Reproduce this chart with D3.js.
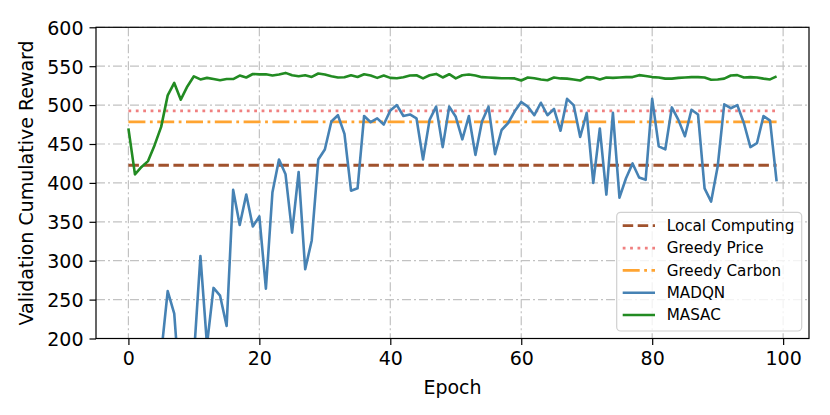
<!DOCTYPE html>
<html>
<head>
<meta charset="utf-8">
<script src="https://cdn.jsdelivr.net/npm/d3@7"></script>
<style>
  html, body { margin: 0; padding: 0; background: #fff; }
  svg { display: block; font-family: "DejaVu Sans", sans-serif; }
</style>
</head>
<body>
<svg id="chart" width="830" height="415"></svg>
<script>
// ---- data ----
const epochs = d3.range(0, 100);
const madqn = [120, 110, 130, 125, 140, 180, 261, 232, 118, 125,
  177, 306, 192, 265, 255, 216, 391, 346, 385, 344,
  357, 264, 388, 430, 411, 336, 414, 289, 326, 430,
  443, 479, 487, 463, 390, 393, 486, 478, 483, 475,
  493, 500, 486, 488, 483, 430, 481, 498, 446, 498,
  485, 456, 486, 436, 479, 498, 437, 468, 477, 492,
  504, 498, 487, 503, 487, 495, 467, 508, 500, 459,
  490, 400, 470, 385, 490, 381, 406, 425, 407, 404,
  508, 447, 443, 497, 481, 460, 494, 488, 393, 376,
  421, 501, 496, 500, 477, 446, 451, 486, 480, 402];
const masac = [470, 411, 420.5, 428, 448.5, 472, 512.5, 528.5, 507, 524,
  537, 533, 535, 533.5, 532, 533.5, 533.5, 538, 535.5, 540,
  539.5, 539.7, 538, 539.3, 541.4, 538.4, 537, 538.4, 536.2, 540.6,
  539.3, 537, 535.5, 535.8, 538.4, 536.2, 539.7, 538, 535, 538,
  535, 534.6, 535.9, 538, 538.4, 534.3, 538.4, 540.1, 535.5, 539.7,
  534.3, 538.4, 539.3, 538, 535.9, 535.5, 535, 534.6, 534.6, 534.3,
  531.6, 535.5, 534.6, 532.9, 532, 535.5, 534.3, 534, 532.9, 531.6,
  536, 535.5, 533, 535.5, 535, 535.5, 536, 536, 538.5, 537.5,
  536, 535.5, 534, 534, 535, 535.5, 536, 536, 535.5, 532.5,
  533, 534, 538, 538.5, 535.5, 536, 535.5, 534, 533, 537];
const localComputing = 422.7;
const greedyPrice = 492.5;
const greedyCarbon = 478.4;
const xTicks = [0, 20, 40, 60, 80, 100];
const yTicks = [200, 250, 300, 350, 400, 450, 500, 550, 600];
const seriesNames = ["Local Computing", "Greedy Price", "Greedy Carbon", "MADQN", "MASAC"];

// ---- styles ----
const styles = {
  "Local Computing": { color: "#a0522d", dash: "10.5,4.5", width: 2.8 },
  "Greedy Price":    { color: "#f08080", dash: "2.8,4.6", width: 2.8 },
  "Greedy Carbon":   { color: "#ffa431", dash: "17,4.5,2.8,4.5", width: 2.8 },
  "MADQN":           { color: "#4682b4", dash: null, width: 2.6 },
  "MASAC":           { color: "#228b22", dash: null, width: 2.6 }
};

// ---- layout ----
const L = 96, R = 809, T = 27.3, B = 338.5;
const svg = d3.select("#chart");
const x = d3.scaleLinear().domain([-4.95, 103.95]).range([L, R]);
const y = d3.scaleLinear().domain([200, 600]).range([B, T]);

svg.append("defs").append("clipPath").attr("id", "plotclip")
  .append("rect").attr("x", L).attr("y", T).attr("width", R - L).attr("height", B - T);

// grid
const grid = svg.append("g").attr("stroke", "#c2c2c2").attr("stroke-width", 1.2)
  .attr("stroke-dasharray", "9,3,2,3");
grid.selectAll(".vg").data(xTicks).join("line")
  .attr("x1", d => x(d)).attr("x2", d => x(d)).attr("y1", T).attr("y2", B);
grid.selectAll(".hg").data(yTicks).join("line")
  .attr("x1", L).attr("x2", R).attr("y1", d => y(d)).attr("y2", d => y(d));

// lines
const plot = svg.append("g").attr("clip-path", "url(#plotclip)");
const line = d3.line().x((d, i) => x(epochs[i])).y(d => y(d));
function addLine(name, values) {
  const s = styles[name];
  const p = plot.append("path").datum(values)
    .attr("fill", "none").attr("stroke", s.color).attr("stroke-width", s.width)
    .attr("stroke-linejoin", "round").attr("d", line);
  if (s.dash) p.attr("stroke-dasharray", s.dash);
}
addLine("Local Computing", epochs.map(() => localComputing));
addLine("Greedy Price", epochs.map(() => greedyPrice));
addLine("Greedy Carbon", epochs.map(() => greedyCarbon));
addLine("MADQN", madqn);
addLine("MASAC", masac);

// axes
const xAxis = svg.append("g").attr("transform", `translate(0,${B})`)
  .call(d3.axisBottom(x).tickValues(xTicks).tickSize(6.5).tickPadding(6).tickFormat(d3.format("d")));
const yAxis = svg.append("g").attr("transform", `translate(${L},0)`)
  .call(d3.axisLeft(y).tickValues(yTicks).tickSize(6.5).tickPadding(6).tickFormat(d3.format("d")));
[xAxis, yAxis].forEach(a => {
  a.select(".domain").remove();
  a.selectAll(".tick line").attr("stroke", "#000").attr("stroke-width", 1.2);
  a.selectAll(".tick text").attr("fill", "#000").style("font-size", "19px")
    .style("font-family", "DejaVu Sans, sans-serif");
});
xAxis.selectAll(".tick text").attr("dy", "0.76em");
yAxis.selectAll(".tick text").attr("dy", "0.36em");

// frame
svg.append("rect").attr("x", L).attr("y", T).attr("width", R - L).attr("height", B - T)
  .attr("fill", "none").attr("stroke", "#000").attr("stroke-width", 1.2);

// axis labels
svg.append("text").attr("x", (L + R) / 2).attr("y", 393.5).attr("text-anchor", "middle")
  .style("font-size", "19px").text("Epoch");
svg.append("text").attr("transform", `translate(33,${(T + B) / 2}) rotate(-90)`)
  .attr("text-anchor", "middle").style("font-size", "19px").text("Validation Cumulative Reward");

// legend
const lg = svg.append("g");
lg.append("rect").attr("x", 616.7).attr("y", 212.3).attr("width", 185).attr("height", 118.7)
  .attr("rx", 4).attr("fill", "#fff").attr("fill-opacity", 0.8)
  .attr("stroke", "#d0d0d0").attr("stroke-width", 1.2);
const rowY = d3.scaleLinear().domain([0, 4]).range([225.7, 315]);
seriesNames.forEach((name, i) => {
  const s = styles[name];
  const yy = rowY(i);
  const h = lg.append("line").attr("x1", 622.7).attr("x2", 655).attr("y1", yy).attr("y2", yy)
    .attr("stroke", s.color).attr("stroke-width", s.width);
  if (s.dash) h.attr("stroke-dasharray", s.dash);
  lg.append("text").attr("x", 666.7).attr("y", yy).attr("dy", "0.36em")
    .style("font-size", "15.2px").attr("fill", "#000").text(name);
});
</script>
</body>
</html>
